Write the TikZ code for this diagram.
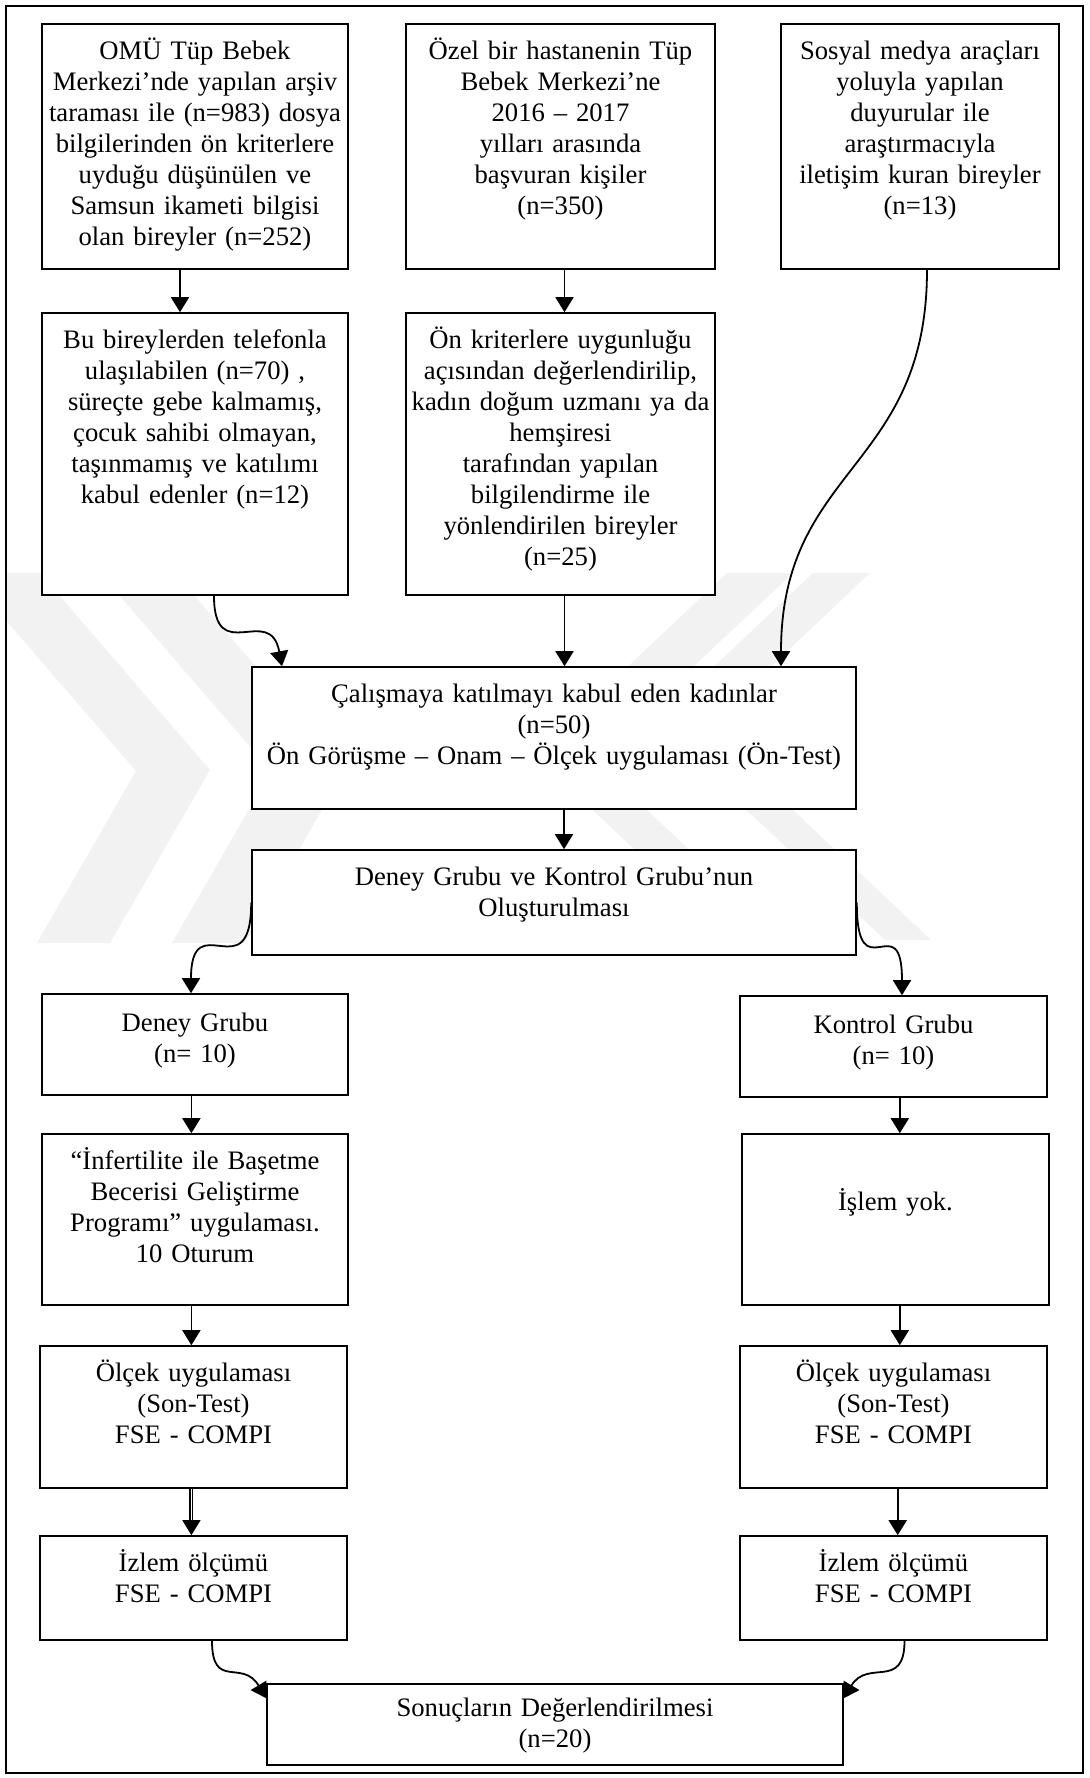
\documentclass[tikz,border=0pt]{standalone}
\usepackage{fontspec}
\setmainfont{Liberation Serif}
\usepackage{tikz}
\usetikzlibrary{arrows.meta}
\tikzstyle{stage} = [rectangle, draw=black, fill=white, line width=0.8pt, align=center, inner xsep=2pt, inner ysep=0pt, text height=17.5pt, font=\fontsize{13.33}{15.5}\selectfont]
\tikzstyle{link} = [->, line width=0.9pt]
\tikzstyle{wmark} = [fill=black!5, draw=none]

\begin{document}
\begin{tikzpicture}[x=1pt, y=-1pt, >={Triangle[length=7.5pt, width=9pt]}]
      \useasboundingbox (0,0) rectangle (544.5,889);

      \begin{scope}
      \clip (3,3) rectangle (541.5,886.5);
      \fill [wmark] (-17.5,286.5) -- (20,286.5) -- (105,385) -- (55,471.5) -- (18.5,471.5) -- (68,385.5) -- cycle;
      \fill [wmark] (50,286.5) -- (87.5,286.5) -- (172.5,385) -- (122.5,471.5) -- (86,471.5) -- (135.5,385.5) -- cycle;
      \fill [wmark] (363.5,286.5) -- (396.5,286.5) -- (297,380) -- (392.5,470) -- (365.5,470) -- (267,377.5) -- cycle;
      \fill [wmark] (406.5,286.5) -- (435,286.5) -- (353,364) -- (465.5,470) -- (442.5,470) -- (327,361.5) -- cycle;
      \end{scope}

      \draw [line width=1.4pt] (3,3) rectangle (541.5,886.5);

      \node (omu) [stage, text width=149pt, minimum width=153pt, text depth=105pt] at (97.5,73.25) {OMÜ Tüp Bebek\\Merkezi’nde yapılan arşiv\\taraması ile (n=983) dosya\\bilgilerinden ön kriterlere\\uyduğu düşünülen ve\\Samsun ikameti bilgisi\\olan bireyler (n=252)};
      \node (ozel) [stage, text width=150.5pt, minimum width=154.5pt, text depth=105pt] at (280.25,73.25) {Özel bir hastanenin Tüp\\Bebek Merkezi’ne\\2016 – 2017\\yılları arasında\\başvuran kişiler\\(n=350)};
      \node (sosyal) [stage, text width=135pt, minimum width=139pt, text depth=105pt] at (460,73.25) {Sosyal medya araçları\\yoluyla yapılan\\duyurular ile\\araştırmacıyla\\iletişim kuran bireyler\\(n=13)};
      \node (telefon) [stage, text width=149pt, minimum width=153pt, text depth=123.5pt] at (97.5,227) {Bu bireylerden telefonla\\ulaşılabilen (n=70) ,\\süreçte gebe kalmamış,\\çocuk sahibi olmayan,\\taşınmamış ve katılımı\\kabul edenler (n=12)};
      \node (kriter) [stage, text width=150.5pt, minimum width=154.5pt, text depth=123.5pt] at (280.25,227) {Ön kriterlere uygunluğu\\açısından değerlendirilip,\\kadın doğum uzmanı ya da\\hemşiresi\\tarafından yapılan\\bilgilendirme ile\\yönlendirilen bireyler\\(n=25)};
      \node (katilim) [stage, text width=298pt, minimum width=302pt, text depth=53.5pt] at (277,369) {Çalışmaya katılmayı kabul eden kadınlar\\(n=50)\\Ön Görüşme – Onam – Ölçek uygulaması (Ön-Test)};
      \node (gruplar) [stage, text width=298pt, minimum width=302pt, text depth=35pt] at (277,451.25) {Deney Grubu ve Kontrol Grubu’nun\\Oluşturulması};
      \node (deney) [stage, text width=149pt, minimum width=153pt, text height=18.5pt, text depth=32pt] at (97.5,522.25) {Deney Grubu\\(n= 10)};
      \node (kontrol) [stage, text width=149.5pt, minimum width=153.5pt, text height=18.5pt, text depth=32pt] at (446.75,523.25) {Kontrol Grubu\\(n= 10)};
      \node (program) [stage, text width=149pt, minimum width=153pt, text depth=68pt] at (97.5,609.75) {“İnfertilite ile Başetme\\Becerisi Geliştirme\\Programı” uygulaması.\\10 Oturum};
      \node (islem) [stage, text width=149.5pt, minimum width=153.5pt, text height=38pt, text depth=47.5pt] at (447.75,609.75) {İşlem yok.};
      \node (sontestD) [stage, text width=149.5pt, minimum width=153.5pt, text depth=53.5pt] at (96.75,708.5) {Ölçek uygulaması\\(Son-Test)\\FSE - COMPI};
      \node (sontestK) [stage, text width=149.5pt, minimum width=153.5pt, text depth=53.5pt] at (446.75,708.5) {Ölçek uygulaması\\(Son-Test)\\FSE - COMPI};
      \node (izlemD) [stage, text width=149.5pt, minimum width=153.5pt, text depth=34.5pt] at (96.75,794) {İzlem ölçümü\\FSE - COMPI};
      \node (izlemK) [stage, text width=149.5pt, minimum width=153.5pt, text depth=34.5pt] at (446.75,794) {İzlem ölçümü\\FSE - COMPI};
      \node (sonuc) [stage, text width=284pt, minimum width=288pt, text height=16pt, text depth=24.5pt] at (277.5,862.25) {Sonuçların Değerlendirilmesi\\(n=20)};

      \draw [link] ([xshift=-7.5pt]omu.south) -- ([xshift=-7.5pt]omu.south |- telefon.north);
      \draw [link] ([xshift=2pt]ozel.south) -- ([xshift=2pt]ozel.south |- kriter.north);
      \draw [link] ([xshift=3.5pt]sosyal.south) .. controls +(0,100) and +(0,-100) .. ([xshift=113.5pt]katilim.north);

      \draw [link] ([xshift=9.5pt]telefon.south) .. controls +(0,36) and +(-6,-32) .. ([xshift=-136pt]katilim.north);
      \draw [link] ([xshift=2pt]kriter.south) -- ([xshift=2pt]kriter.south |- katilim.north);
      \draw [link] ([xshift=5pt]katilim.south) -- ([xshift=5pt]katilim.south |- gruplar.north);

      \draw [link] (gruplar.west) .. controls +(0,45) and +(0,-45) .. ([xshift=-2pt]deney.north);
      \draw [link] (gruplar.east) .. controls +(0,46) and +(0,-46) .. ([xshift=4.25pt]kontrol.north);

      \draw [link] ([xshift=-1.8pt]deney.south) -- ([xshift=-1.8pt]deney.south |- program.north);
      \draw [link] ([xshift=3.15pt]kontrol.south) -- ([xshift=3.15pt]kontrol.south |- islem.north);
      \draw [link] ([xshift=-1.8pt]program.south) -- ([xshift=-1.8pt]program.south |- sontestD.north);
      \draw [link] ([xshift=2.15pt]islem.south) -- ([xshift=2.15pt]islem.south |- sontestK.north);
      \draw [link, double, double distance=0.8pt, line width=0.6pt] ([xshift=-1.05pt]sontestD.south) -- ([xshift=-1.05pt]sontestD.south |- izlemD.north);
      \draw [link] ([xshift=2.1pt]sontestK.south) -- ([xshift=2.1pt]sontestK.south |- izlemK.north);

      \draw [link] ([xshift=9.25pt]izlemD.south) .. controls +(0,25) and +(-12,-20) .. ([yshift=-7.5pt]sonuc.north west);
      \draw [link] ([xshift=5.5pt]izlemK.south) .. controls +(0,25) and +(12,-20) .. ([yshift=-7.5pt]sonuc.north east);
\end{tikzpicture}
\end{document}
